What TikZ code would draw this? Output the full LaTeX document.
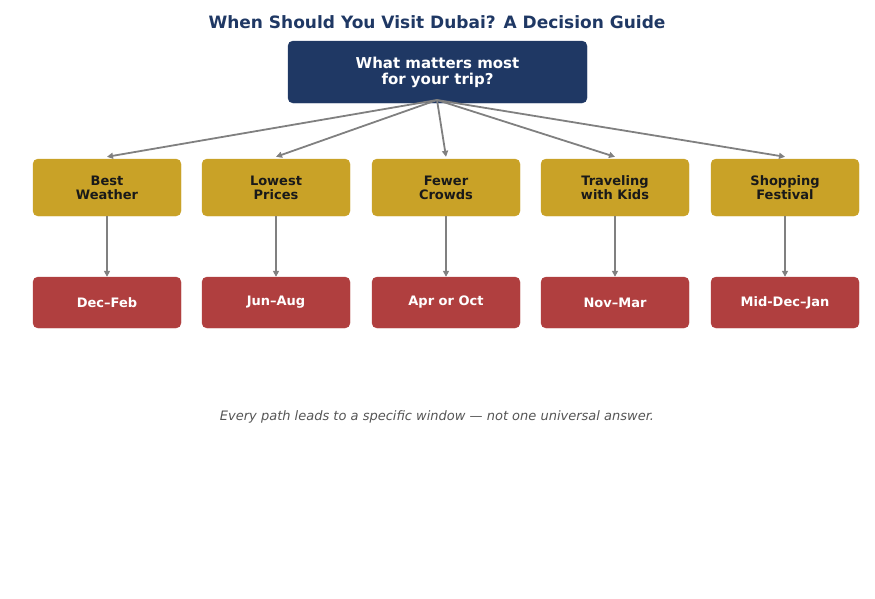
\documentclass[tikz,border=0pt]{standalone}
\usepackage{fontspec}
\setmainfont{DejaVu Sans}
\usetikzlibrary{arrows.meta}
\definecolor{navy}{HTML}{1F3864}
\definecolor{gold}{HTML}{C9A227}
\definecolor{brick}{HTML}{B03F3F}
\definecolor{arr}{HTML}{808080}
\definecolor{foot}{HTML}{555555}
\begin{document}
\begin{tikzpicture}[x=1pt,y=-1pt,
 root/.style={draw=navy,fill=navy,rounded corners=5pt,minimum width=299pt,minimum height=62pt,text=white,font=\fontsize{15}{16}\selectfont\bfseries,align=center,inner sep=0pt},
 mid/.style={draw=gold,fill=gold,rounded corners=5pt,minimum width=148pt,minimum height=57pt,text=black!90,font=\fontsize{13}{14}\selectfont\bfseries,align=center,inner sep=0pt},
 leaf/.style={draw=brick,fill=brick,rounded corners=5pt,minimum width=148pt,minimum height=51pt,text=white,font=\fontsize{13}{14}\selectfont\bfseries,inner sep=0pt},
 con/.style={draw=arr,line width=1.8pt,-{Triangle[length=6pt,width=6pt]}}]
\useasboundingbox (0,0) rectangle (875,598);
\node[text=navy,font=\fontsize{17}{18}\selectfont\bfseries] (title) at (437,22) {When Should You Visit Dubai? A Decision Guide};
\node[root] (r) at (437.5,72) {What matters most\\for your trip?};
\coordinate (rs) at (437,100);
\foreach \n/\x/\a/\b in {1/107/Best\\Weather/Dec–Feb,2/276/Lowest\\Prices/Jun–Aug,3/446/Fewer\\Crowds/Apr or Oct,4/615/Traveling\\with Kids/Nov–Mar,5/785/Shopping\\Festival/Mid-Dec–Jan}{
 \node[mid] (m\n) at (\x,187.5) {\a};
 \node[leaf] (l\n) at (\x,302.5) {\b};
 \draw[con] (rs) -- ([yshift=2pt]m\n.north);
 \draw[con] (m\n) -- (l\n);
}
\node[text=foot,font=\fontsize{13}{14}\selectfont\itshape] (f) at (437,417) {Every path leads to a specific window — not one universal answer.};
\end{tikzpicture}
\end{document}
